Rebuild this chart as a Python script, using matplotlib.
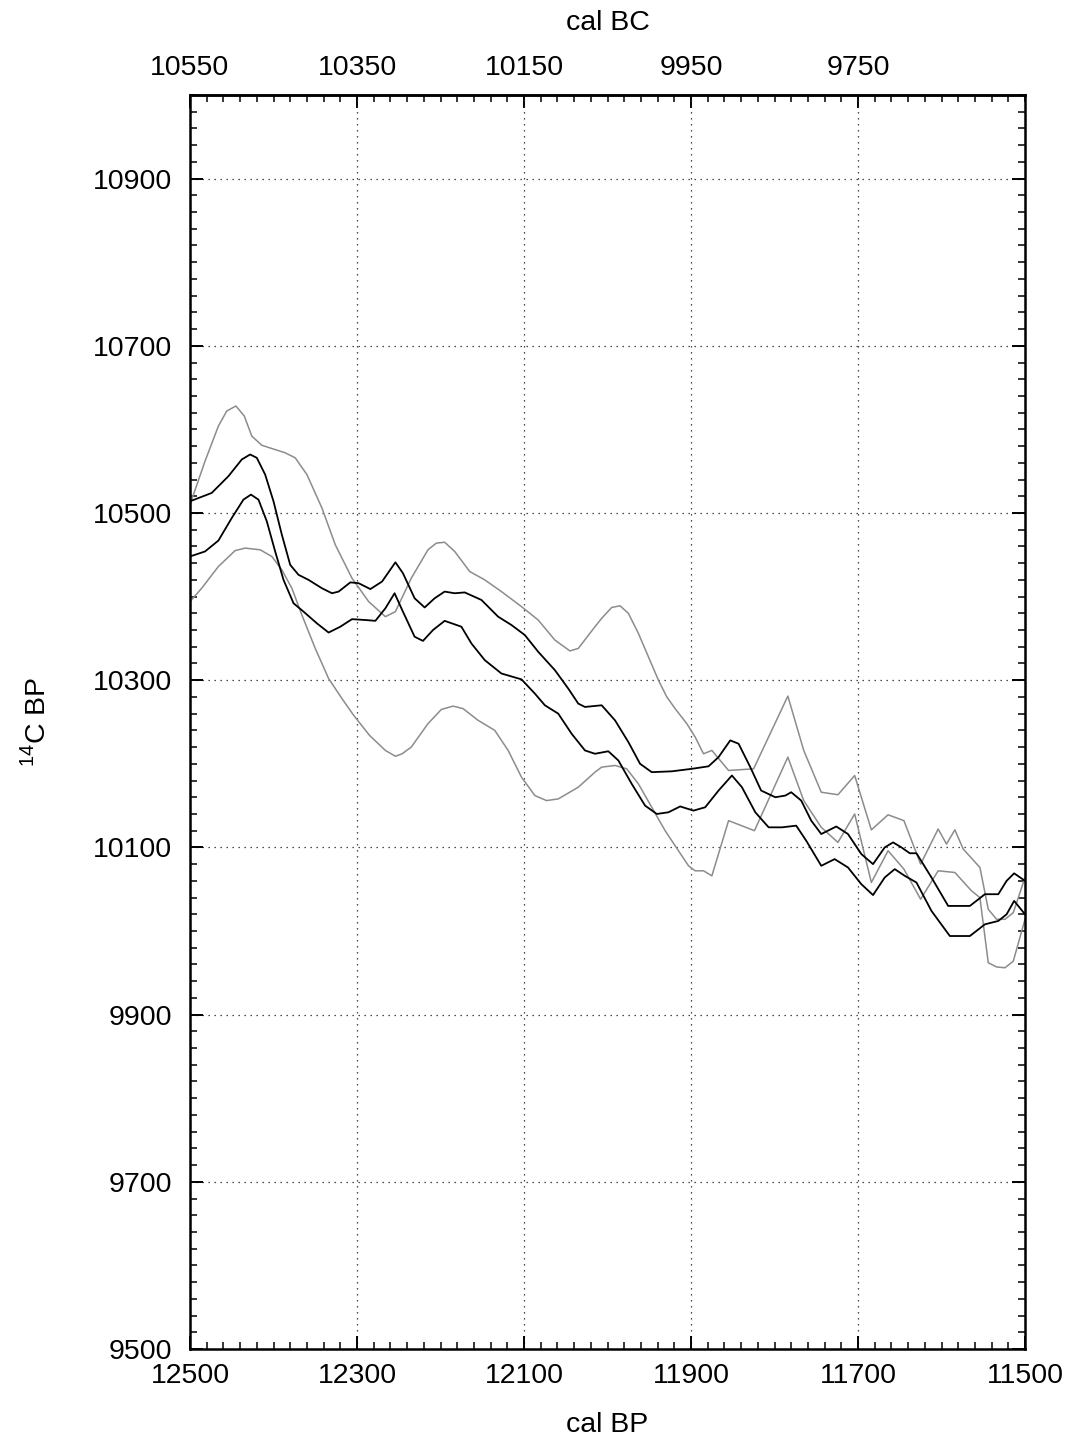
import matplotlib
matplotlib.use('Agg')
import matplotlib.pyplot as plt

plt.rcParams['font.family'] = ['Liberation Sans', 'DejaVu Sans']
plt.rcParams['mathtext.fontset'] = 'custom'
plt.rcParams['mathtext.rm'] = 'Liberation Sans'

# upper / lower gray envelope
ug_x = [12500, 12482, 12466, 12456, 12445, 12435, 12426, 12414, 12386, 12374,
        12360, 12342, 12326, 12306, 12286, 12266, 12254, 12235, 12215, 12205,
        12195, 12183, 12165, 12147, 12127, 12103, 12083, 12063, 12045, 12035,
        12015, 12007, 11995, 11985, 11975, 11963, 11951, 11939, 11929, 11919,
        11905, 11895, 11885, 11875, 11855, 11825, 11784, 11765, 11744, 11724,
        11704, 11684, 11664, 11645, 11625, 11604, 11594, 11584, 11574, 11554,
        11544, 11534, 11524, 11514, 11500]
ug_y = [10510, 10562, 10604, 10622, 10628, 10616, 10592, 10581, 10572, 10566,
        10546, 10506, 10462, 10422, 10394, 10376, 10382, 10422, 10456, 10464,
        10465, 10454, 10430, 10420, 10406, 10388, 10372, 10348, 10335, 10338,
        10364, 10374, 10387, 10389, 10380, 10356, 10328, 10300, 10280, 10266,
        10248, 10232, 10212, 10216, 10192, 10194, 10281, 10216, 10166, 10163,
        10186, 10121, 10139, 10132, 10080, 10122, 10104, 10121, 10098, 10076,
        10026, 10014, 10014, 10022, 10064]

lg_x = [12500, 12486, 12466, 12446, 12434, 12416, 12402, 12390, 12378, 12366,
        12350, 12334, 12318, 12304, 12285, 12266, 12254, 12246, 12235, 12215,
        12199, 12185, 12173, 12155, 12135, 12119, 12103, 12087, 12073, 12059,
        12035, 12015, 12007, 11991, 11977, 11963, 11947, 11931, 11915, 11903,
        11895, 11885, 11875, 11855, 11824, 11784, 11765, 11744, 11724, 11704,
        11684, 11664, 11645, 11625, 11604, 11584, 11564, 11554, 11544, 11534,
        11524, 11514, 11500]
lg_y = [10394, 10410, 10436, 10455, 10458, 10456, 10448, 10432, 10410, 10378,
        10338, 10302, 10278, 10258, 10234, 10216, 10209, 10212, 10220, 10248,
        10265, 10269, 10266, 10252, 10240, 10216, 10184, 10162, 10156, 10158,
        10172, 10190, 10196, 10198, 10194, 10176, 10148, 10120, 10096, 10078,
        10072, 10072, 10066, 10132, 10120, 10208, 10156, 10124, 10106, 10140,
        10058, 10096, 10074, 10038, 10072, 10070, 10048, 10040, 9962, 9957,
        9956, 9964, 10014]

# upper / lower black curve
ub_x = [12500, 12474, 12454, 12438, 12428, 12420, 12410, 12400, 12390, 12380,
        12370, 12358, 12342, 12330, 12322, 12308, 12298, 12284, 12270, 12254,
        12245, 12231, 12219, 12207, 12195, 12183, 12171, 12151, 12131, 12115,
        12099, 12083, 12063, 12047, 12035, 12027, 12007, 11991, 11975, 11961,
        11947, 11923, 11899, 11879, 11867, 11853, 11843, 11829, 11816, 11799,
        11787, 11780, 11768, 11756, 11744, 11726, 11712, 11696, 11682, 11668,
        11658, 11648, 11638, 11630, 11612, 11592, 11579, 11566, 11548, 11532,
        11522, 11513, 11500]
ub_y = [10514, 10524, 10544, 10564, 10570, 10566, 10546, 10514, 10474, 10438,
        10426, 10420, 10410, 10404, 10406, 10417, 10416, 10409, 10418, 10441,
        10428, 10398, 10387, 10398, 10406, 10404, 10405, 10396, 10376, 10366,
        10354, 10334, 10312, 10290, 10272, 10268, 10270, 10252, 10226, 10200,
        10190, 10191, 10194, 10197, 10208, 10228, 10224, 10196, 10168, 10160,
        10162, 10166, 10156, 10132, 10116, 10125, 10116, 10092, 10080, 10100,
        10106, 10100, 10093, 10093, 10064, 10030, 10030, 10030, 10044, 10044,
        10060, 10069, 10060]

lb_x = [12500, 12482, 12466, 12450, 12436, 12427, 12418, 12408, 12398, 12388,
        12376, 12364, 12348, 12334, 12320, 12306, 12290, 12278, 12266, 12255,
        12245, 12231, 12221, 12209, 12195, 12175, 12163, 12147, 12127, 12103,
        12087, 12075, 12059, 12043, 12027, 12015, 11999, 11987, 11971, 11955,
        11941, 11927, 11913, 11897, 11883, 11867, 11851, 11839, 11823, 11807,
        11791, 11774, 11762, 11744, 11728, 11712, 11696, 11682, 11668, 11656,
        11644, 11630, 11612, 11590, 11566, 11548, 11532, 11522, 11513, 11500]
lb_y = [10448, 10454, 10467, 10494, 10516, 10522, 10516, 10490, 10454, 10420,
        10392, 10382, 10368, 10357, 10364, 10373, 10372, 10371, 10386, 10404,
        10382, 10352, 10347, 10360, 10371, 10364, 10344, 10324, 10308, 10301,
        10284, 10270, 10260, 10236, 10216, 10212, 10215, 10204, 10176, 10150,
        10140, 10142, 10149, 10144, 10148, 10168, 10186, 10172, 10142, 10124,
        10124, 10126, 10108, 10078, 10086, 10076, 10056, 10043, 10064, 10074,
        10066, 10058, 10024, 9994, 9994, 10008, 10012, 10020, 10036, 10020]

bp_ticks = [12500, 12300, 12100, 11900, 11700, 11500]
bc_ticks = [10550, 10350, 10150, 9950, 9750]
c14_ticks = [9500, 9700, 9900, 10100, 10300, 10500, 10700, 10900]

fig = plt.figure(figsize=(10.78, 14.41), dpi=100)
ax = fig.add_axes([190 / 1078, 1 - 1349 / 1441, 835 / 1078, 1254 / 1441])

ax.plot(ug_x, ug_y, color='#8c8c8c', lw=1.1, solid_joinstyle='round')
ax.plot(lg_x, lg_y, color='#8c8c8c', lw=1.1, solid_joinstyle='round')
ax.plot(ub_x, ub_y, color='black', lw=1.3, solid_joinstyle='round')
ax.plot(lb_x, lb_y, color='black', lw=1.3, solid_joinstyle='round')

ax.set_xlim(12500, 11500)
ax.set_ylim(9500, 11000)
ax.set_xticks(bp_ticks)
ax.set_xticks(range(11500, 12501, 20), minor=True)
ax.set_yticks(c14_ticks)
ax.set_yticks(range(9500, 11001, 20), minor=True)

ax.grid(True, which='major', color='#303030', lw=0.9, linestyle=(0, (1.1, 3.7)))

for s in ax.spines.values():
    s.set_linewidth(1.8)

ax.tick_params(which='both', direction='in', right=True, top=False, labelsize=20.5)
ax.tick_params(which='major', length=9.5, width=1.4)
ax.tick_params(which='minor', length=5, width=1.1)
ax.tick_params(axis='x', pad=10)
ax.tick_params(axis='y', pad=13)

sec = ax.secondary_xaxis('top', functions=(lambda x: x - 1950, lambda x: x + 1950))
sec.set_xticks(bc_ticks)
sec.set_xticks(range(9550, 10551, 20), minor=True)
sec.tick_params(which='both', direction='in', labelsize=20.5)
sec.tick_params(which='major', length=9.5, width=1.4, pad=10)
sec.tick_params(which='minor', length=5, width=1.1)
sec.spines['top'].set_linewidth(1.8)

fig.text(607.5 / 1078, 1 - 30 / 1441, 'cal BC', ha='center', va='baseline', fontsize=20.5)
fig.text(607.5 / 1078, 1 - 1432 / 1441, 'cal BP', ha='center', va='baseline', fontsize=20.5)
fig.text(36 / 1078, 1 - 722 / 1441, r'$^{\mathrm{14}}$C BP', rotation=90,
         ha='center', va='center', fontsize=20.5)

fig.savefig('out.png', dpi=100)
